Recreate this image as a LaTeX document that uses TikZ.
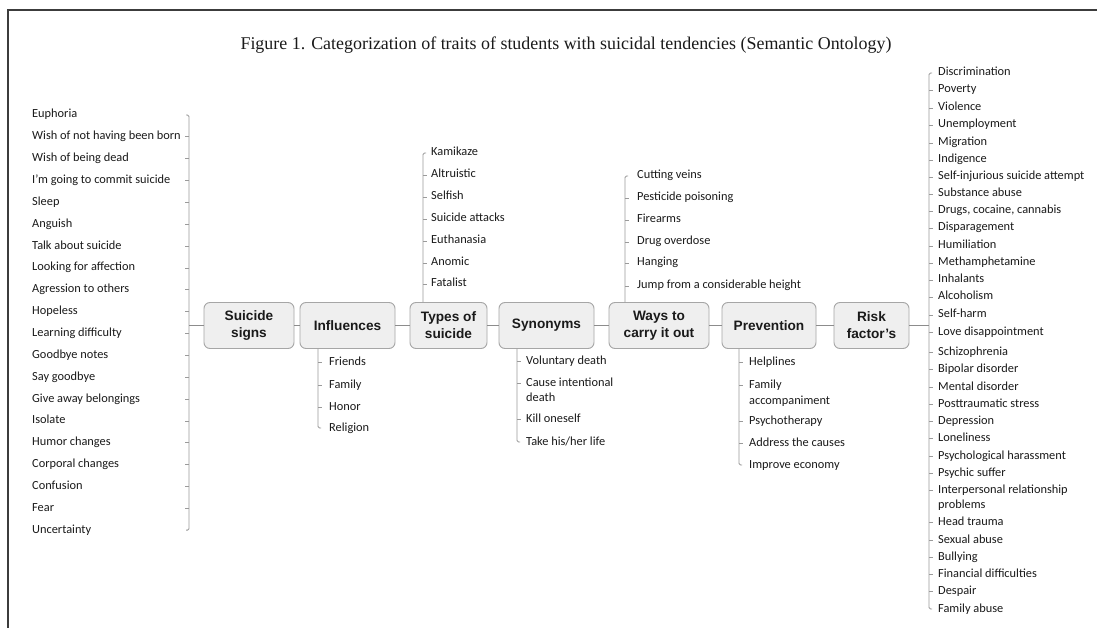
\documentclass[tikz,border=0pt]{standalone}
\usepackage{fontspec}
\usetikzlibrary{calc}
\setmainfont{Carlito}
\newfontfamily\boxfont{Liberation Sans}
\newfontfamily\titlefont{Liberation Serif}
\definecolor{boxfill}{HTML}{EFEFEF}
\definecolor{boxline}{HTML}{A6A6A6}
\definecolor{conline}{HTML}{8C8C8C}
\definecolor{brline}{HTML}{9A9A9A}
\definecolor{frameline}{HTML}{3C3C3C}
\definecolor{txt}{HTML}{1A1A1A}
\begin{document}
\begin{tikzpicture}[x=1bp,y=-1bp,
  item/.style={anchor=west, inner sep=0pt, text=txt, font=\fontsize{12.4}{15}\selectfont, text height=8.5bp, text depth=2.5bp},
  cat/.style={draw=boxline, fill=boxfill, rounded corners=6bp, line width=0.9bp, minimum height=46bp, inner sep=0pt, align=center, text=txt, font=\boxfont\bfseries\fontsize{13.7}{17}\selectfont},
  con/.style={draw=conline, line width=1bp},
  br/.style={draw=brline, line width=0.9bp},
  tick/.style={draw=brline, line width=0.8bp}]
\useasboundingbox[fill=white] (0,0) rectangle (1097,628);
% frame
\coordinate (fa) at (8,628);
\coordinate (fb) at (8,10);
\coordinate (fc) at (1097,10);
\draw[frameline, line width=1.1bp] (fa) -- (fb) -- (fc);
% title
\node[inner sep=0pt, text=txt, font=\titlefont\fontsize{18}{20}\selectfont] (title) at (566,45) {Figure 1. Categorization of traits of students with suicidal tendencies (Semantic Ontology)};

% category boxes
\node[cat, minimum width=90bp] (b1) at (249,325.5) {Suicide\\signs};
\node[cat, minimum width=95bp] (b2) at (347.5,325.5) {Influences};
\node[cat, minimum width=77bp] (b3) at (448.5,325.5) {Types of\\suicide};
\node[cat, minimum width=95bp] (b4) at (546.5,325.5) {Synonyms};
\node[cat, minimum width=100bp] (b5) at (659,325.5) {Ways to\\carry it out};
\node[cat, minimum width=94bp] (b6) at (769,325.5) {Prevention};
\node[cat, minimum width=75bp] (b7) at (871.5,325.5) {Risk\\factor’s};
\draw[con] (b1.east) -- (b2.west);
\draw[con] (b2.east) -- (b3.west);
\draw[con] (b3.east) -- (b4.west);
\draw[con] (b4.east) -- (b5.west);
\draw[con] (b5.east) -- (b6.west);
\draw[con] (b6.east) -- (b7.west);

% ---- Suicide signs (left list)
\foreach \t [count=\i] in {Euphoria,Wish of not having been born,Wish of being dead,I’m going to commit suicide,Sleep,Anguish,Talk about suicide,Looking for affection,Agression to others,Hopeless,Learning difficulty,Goodbye notes,Say goodbye,Give away belongings,Isolate,Humor changes,Corporal changes,Confusion,Fear,Uncertainty}
  \node[item] (ss\i) at (32,{115+(\i-1)*21.85}) {\t};
\coordinate (lx) at (189,0);
\draw[br, rounded corners=1.5bp] ($(ss1 -| lx)+(-3,0)$) -- (ss1 -| lx) -- (ss20 -| lx) -- ($(ss20 -| lx)+(-3,0)$);
\foreach \i in {2,...,19} \draw[tick] (ss\i -| lx) -- ++(-4,0);
\draw[con] (b1 -| lx) -- (b1.west);

% ---- Influences
\foreach \t/\y [count=\i] in {Friends/362,Family/385,Honor/407,Religion/428}
  \node[item] (in\i) at (329,\y) {\t};
\coordinate (ix) at (318,0);
\draw[br, rounded corners=1.5bp] (b2.south -| ix) -- (in4 -| ix) -- ($(in4 -| ix)+(3,0)$);
\foreach \i in {1,2,3} \draw[tick] (in\i -| ix) -- ++(4,0);

% ---- Types of suicide
\foreach \t/\y [count=\i] in {Kamikaze/153,Altruistic/175,Selfish/197,Suicide attacks/219,Euthanasia/241,Anomic/263,Fatalist/284}
  \node[item] (ty\i) at (431,\y) {\t};
\coordinate (tx) at (423,0);
\draw[br, rounded corners=1.5bp] (b3.north -| tx) -- (ty1 -| tx) -- ($(ty1 -| tx)+(3,0)$);
\foreach \i in {2,...,7} \draw[tick] (ty\i -| tx) -- ++(4,0);

% ---- Synonyms
\node[item] (sy1) at (526,361) {Voluntary death};
\node[item] (sy2) at (526,383) {Cause intentional};
\node[item] (sy2b) at (526,398) {death};
\node[item] (sy3) at (526,419) {Kill oneself};
\node[item] (sy4) at (526,442) {Take his/her life};
\coordinate (sx) at (517,0);
\draw[br, rounded corners=1.5bp] (b4.south -| sx) -- (sy4 -| sx) -- ($(sy4 -| sx)+(3,0)$);
\foreach \i in {1,2,3} \draw[tick] (sy\i -| sx) -- ++(4,0);

% ---- Ways to carry it out
\foreach \t/\y [count=\i] in {Cutting veins/176,Pesticide poisoning/198,Firearms/220,Drug overdose/242,Hanging/263,Jump from a considerable height/286}
  \node[item] (wy\i) at (637,\y) {\t};
\coordinate (wx) at (625,0);
\draw[br, rounded corners=1.5bp] (b5.north -| wx) -- (wy1 -| wx) -- ($(wy1 -| wx)+(3,0)$);
\foreach \i in {2,...,6} \draw[tick] (wy\i -| wx) -- ++(4,0);

% ---- Prevention
\node[item] (pr1) at (749,362) {Helplines};
\node[item] (pr2) at (749,385) {Family};
\node[item] (pr2b) at (749,401) {accompaniment};
\node[item] (pr3) at (749,421) {Psychotherapy};
\node[item] (pr4) at (749,443) {Address the causes};
\node[item] (pr5) at (749,465) {Improve economy};
\coordinate (px) at (739,0);
\draw[br, rounded corners=1.5bp] (b6.south -| px) -- (pr5 -| px) -- ($(pr5 -| px)+(3,0)$);
\foreach \i in {1,...,4} \draw[tick] (pr\i -| px) -- ++(4,0);

% ---- Risk factor's
\foreach \t/\y [count=\i] in {Discrimination/73,Poverty/90,Violence/108,Unemployment/125,Migration/143,Indigence/160,Self-injurious suicide attempt/177,Substance abuse/194,{Drugs, cocaine, cannabis}/211,Disparagement/228,Humiliation/246,Methamphetamine/263,Inhalants/280,Alcoholism/297,Self-harm/315,Love disappointment/332,Schizophrenia/352,Bipolar disorder/369,Mental disorder/387,Posttraumatic stress/404,Depression/421,Loneliness/438,Psychological harassment/456,Psychic suffer/473,Interpersonal relationship/490,Head trauma/522,Sexual abuse/540,Bullying/557,Financial difficulties/574,Despair/591,Family abuse/609}
  \node[item] (rf\i) at (938,\y) {\t};
\node[item] (rf25b) at (938,505) {problems};
\coordinate (rx) at (929,0);
\draw[br, rounded corners=1.5bp] ($(rf1 -| rx)+(3,0)$) -- (rf1 -| rx) -- (rf31 -| rx) -- ($(rf31 -| rx)+(3,0)$);
\foreach \i in {2,...,30} \draw[tick] (rf\i -| rx) -- ++(4,0);
\draw[con] (b7.east) -- (b7 -| rx);
\end{tikzpicture}
\end{document}
